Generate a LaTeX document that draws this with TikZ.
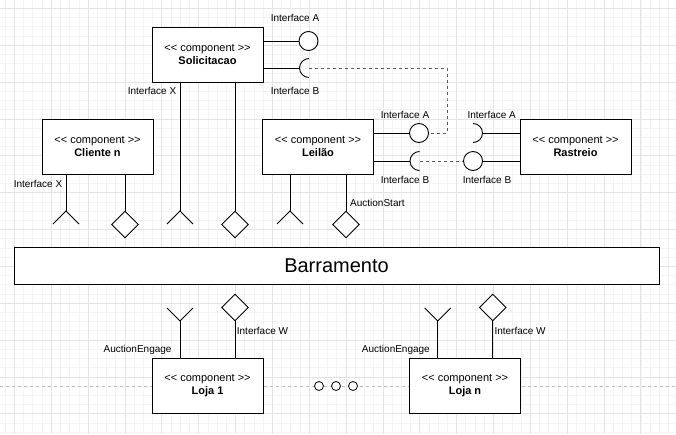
\documentclass[tikz,border=0pt]{standalone}
\usepackage{fontspec}
\newfontfamily\drawfont{Liberation Sans}
\usetikzlibrary{shapes.geometric}

\definecolor{gridminor}{RGB}{244,244,244}
\definecolor{gridmajor}{RGB}{228,228,228}
\definecolor{pagebrk}{RGB}{190,190,190}

\tikzset{
  comp/.style={draw, fill=white, line width=0.9pt, minimum width=111, minimum height=55,
    align=center, inner sep=0, font=\drawfont\fontsize{11}{13}\selectfont},
  wire/.style={line width=0.9pt},
  lolli/.style={circle, draw, fill=white, line width=0.9pt, minimum size=19, inner sep=0},
  prov/.style={diamond, draw, fill=white, line width=0.9pt, minimum width=27,
    minimum height=27, inner sep=0},
  lbl/.style={inner sep=0, font=\drawfont\fontsize{10}{12}\selectfont},
  dashline/.style={line width=0.9pt, dash pattern=on 3pt off 3pt, black!65},
}

\begin{document}
\begin{tikzpicture}[x=1pt, y=-1pt]
    \useasboundingbox (0,0) rectangle (676,434);
    % grid
    \foreach \k in {0,...,73} \draw[gridminor, line width=0.5pt] ({5.09+9.2125*\k},0) -- ++(0,434);
    \foreach \k in {0,...,46} \draw[gridminor, line width=0.5pt] (0,{8.3+9.2125*\k}) -- ++(676,0);
    \foreach \k in {0,...,17} \draw[gridmajor, line width=0.6pt] ({14.3+36.85*\k},0) -- ++(0,434);
    \foreach \k in {0,...,11} \draw[gridmajor, line width=0.6pt] (0,{8.3+36.85*\k}) -- ++(676,0);
    \draw[pagebrk, line width=0.6pt, dash pattern=on 3pt off 3pt] (0,386) -- (676,386);

    % components
    \node[comp] (solic) at (207.5,54.5) {<< component >>\\\bfseries Solicitacao};
    \node[comp] (cliente) at (97.5,146.5) {<< component >>\\\bfseries Cliente n};
    \node[comp] (leilao) at (318,146.5) {<< component >>\\\bfseries Leilão};
    \node[comp] (rast) at (575.5,146.5) {<< component >>\\\bfseries Rastreio};
    \node[comp] (loja1) at (207.5,385.5) {<< component >>\\\bfseries Loja 1};
    \node[comp] (lojan) at (465,385.5) {<< component >>\\\bfseries Loja n};
    \node[draw, fill=white, line width=0.9pt, minimum width=645, minimum height=37, inner sep=0,
      font=\drawfont\fontsize{20}{24}\selectfont] (barra) at (336.5,265.5) {Barramento};

    % provided / required interfaces
    \coordinate (sockSB) at (309,68);
    \coordinate (sockLB) at (419.5,161);
    \coordinate (sockRA) at (473,133);
    \coordinate (bend) at (447,100);
    \draw[dashline] (sockSB) -| (bend) |- (419,133);
    \draw[dashline] (sockLB) -- (473,161);
    \node[lolli] (lolSA) at (308.5,41) {};
    \node[lolli] (lolLA) at (419,133) {};
    \node[lolli] (lolRB) at (473,161) {};

    \draw[wire] (solic.east |- lolSA) -- (lolSA);
    \draw[wire] (solic.east |- sockSB) -- ([xshift=-9.5pt]sockSB);
    \draw[wire] ([yshift=9.5pt]sockSB) arc[start angle=90, end angle=270, radius=9.5pt];
    \draw[wire] (leilao.east |- lolLA) -- (lolLA);
    \draw[wire] (leilao.east |- sockLB) -- ([xshift=-9.5pt]sockLB);
    \draw[wire] ([yshift=9.5pt]sockLB) arc[start angle=90, end angle=270, radius=9.5pt];
    \draw[wire] (rast.west |- lolRB) -- (lolRB);
    \draw[wire] (rast.west |- sockRA) -- ([xshift=9.5pt]sockRA);
    \draw[wire] ([yshift=9.5pt]sockRA) arc[start angle=90, end angle=-90, radius=9.5pt];

    % bus ports
    \coordinate (fCli) at (66,211);
    \coordinate (fSol) at (180,211);
    \coordinate (fLei) at (290,211);
    \coordinate (fL1) at (180,321);
    \coordinate (fLn) at (437.7,321);
    \node[prov] (dCli) at (125,224.5) {};
    \node[prov] (dSol) at (235,224.5) {};
    \node[prov] (dLei) at (346,224.5) {};
    \node[prov] (dL1) at (235,307.5) {};
    \node[prov] (dLn) at (492.7,307.5) {};

    \draw[wire] (cliente.south -| fCli) -- (fCli);
    \draw[wire] (cliente.south -| dCli) -- (dCli.north);
    \draw[wire] (solic.south -| fSol) -- (fSol);
    \draw[wire] (solic.south -| dSol) -- (dSol.north);
    \draw[wire] (leilao.south -| fLei) -- (fLei);
    \draw[wire] (leilao.south -| dLei) -- (dLei.north);
    \draw[wire] (loja1.north -| fL1) -- (fL1);
    \draw[wire] (loja1.north -| dL1) -- (dL1.south);
    \draw[wire] (lojan.north -| fLn) -- (fLn);
    \draw[wire] (lojan.north -| dLn) -- (dLn.south);
    \foreach \p in {fCli,fSol,fLei}
        \draw[wire] ([shift={(-13,13)}]\p) -- (\p) -- ++(13,13);
    \foreach \p in {fL1,fLn}
        \draw[wire] ([shift={(-13,-13)}]\p) -- (\p) -- ++(13,-13);

    % labels
    \node[lbl] (tSA) at (295,18) {Interface A};
    \node[lbl] (tSB) at (295,91) {Interface B};
    \node[lbl] (tSX) at (152,91) {Interface X};
    \node[lbl] (tCX) at (38,184) {Interface X};
    \node[lbl] (tLA) at (405,115) {Interface A};
    \node[lbl] (tRA) at (491.7,115) {Interface A};
    \node[lbl] (tLB) at (405,180) {Interface B};
    \node[lbl] (tRB) at (487,180) {Interface B};
    \node[lbl, anchor=west] (tStart) at (350,203) {AuctionStart};
    \node[lbl, anchor=east] (tEng1) at (171.7,350) {AuctionEngage};
    \node[lbl, anchor=east] (tEngn) at (430,350) {AuctionEngage};
    \node[lbl, anchor=west] (tW1) at (236.7,331) {Interface W};
    \node[lbl, anchor=west] (tWn) at (494.3,331) {Interface W};

    % more shops
    \foreach \i/\x in {1/319,2/336,3/353}
        \node[circle, draw, fill=white, line width=0.8pt, minimum size=9, inner sep=0] (dot\i) at (\x,386) {};
\end{tikzpicture}
\end{document}
